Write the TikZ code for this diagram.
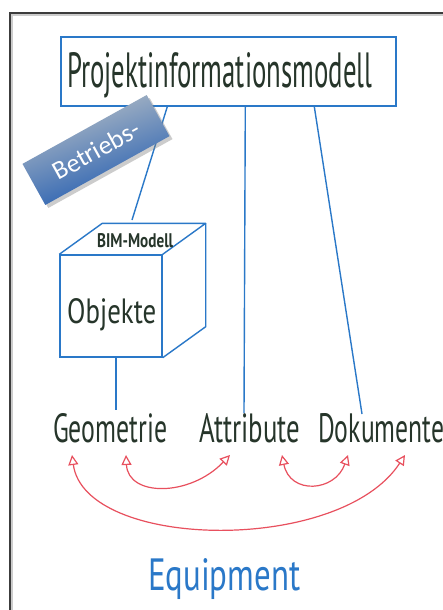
\documentclass[tikz,border=0pt]{standalone}
\usepackage{fontspec}
\setmainfont{PT Sans}
\newfontfamily\labelfont{Carlito}
\usetikzlibrary{arrows.meta,shadows,calc}
\definecolor{ink}{HTML}{26352A}
\definecolor{pen}{HTML}{2A78C8}
\definecolor{redpen}{HTML}{E8505E}
\definecolor{frame}{HTML}{3C3C3C}
\definecolor{tagblue}{HTML}{1C58B0}
\definecolor{taggray}{HTML}{B8C0C6}
\newcommand{\fitto}[3]{\resizebox{#1}{#2}{#3}}
\tikzset{
  hw/.style={inner sep=0pt, text=ink, anchor=base west},
  blueline/.style={draw=pen, line width=1.4pt},
  redarr/.style={draw=redpen, line width=1.2pt, {Triangle[open,length=10pt,width=10pt,line width=1.2pt]}-{Triangle[open,length=10pt,width=10pt,line width=1.2pt]}},
}
\begin{document}
\begin{tikzpicture}[x=1pt,y=-1pt]
\useasboundingbox (0,0) rectangle (443,610);
\clip (0,0) rectangle (443,610);
\fill[white] (0,0) rectangle (443,610);
% frame
\draw[gray!40, line width=2pt] (12,616) -- (12,15) -- (450,15);
\draw[frame, line width=2pt] (10,616) -- (10,13) -- (450,13);

% top box
\node[draw=pen, line width=1.4pt, minimum width=335pt, minimum height=69pt, inner sep=0pt] (pim) at (228.5,71.5) {};
\node[hw] (pimt) at (67,88) {\fitto{305pt}{35pt}{Projektinformationsmodell}};

% cube
\node[draw=pen, line width=1.4pt, minimum width=102pt, minimum height=102pt, inner sep=0pt] (cube) at (111,306) {};
\coordinate (btl) at ($(cube.north west)+(43,-31)$);
\coordinate (btr) at ($(cube.north east)+(43,-31)$);
\coordinate (bbr) at ($(cube.south east)+(43,-31)$);
\draw[blueline, line join=round] (cube.north west) -- (btl) -- (btr) -- (cube.north east);
\draw[blueline, line join=round] (btr) -- (bbr) -- (cube.south east);
\node[hw] (obj) at (67,323) {\fitto{89pt}{25pt}{Objekte}};
\node[hw] (bim) at (97,247) {\fitto{76pt}{14pt}{\bfseries BIM-Modell}};

% bottom labels
\node[hw] (geo) at (53,442) {\fitto{114pt}{29pt}{Geometrie}};
\node[hw] (att) at (199,442) {\fitto{101pt}{29pt}{Attribute}};
\node[hw] (dok) at (318,442) {\fitto{126pt}{29pt}{Dokumente}};
\node[hw, text=pen] (equ) at (148,590) {\fitto{152pt}{32pt}{Equipment}};

% connectors
\coordinate (p1) at ($(pim.south west)+(107,0)$);
\coordinate (p2) at ($(pim.south west)+(185,0)$);
\coordinate (p3) at ($(pim.south west)+(254,0)$);
\coordinate (cubetop) at (132,220);
\coordinate (atttop) at (244,413);
\coordinate (doktop) at (362,414);
\coordinate (cubebot) at ($(cube.south)+(5,0)$);
\coordinate (geotop) at (116,410);
\draw[blueline] (p1) -- (cubetop);
\draw[blueline] (p2) -- (atttop);
\draw[blueline] (p3) -- (doktop);
\draw[blueline] (cubebot) -- (geotop);

% red arrows
\coordinate (g1) at (72,455);
\coordinate (g2) at (126,455);
\coordinate (a1) at (230,455);
\coordinate (a2) at (282,455);
\coordinate (d1) at (348,455);
\coordinate (d2) at (405,455);
\draw[redarr] (g2) .. controls (128,497) and (190,497) .. (a1);
\draw[redarr] (a2) .. controls (290,495) and (335,492) .. (d1);
\draw[redarr] (g1) .. controls (85,550) and (340,555) .. (d2);

% Betriebs- tag
\node[rotate=29, minimum width=142pt, minimum height=47pt, inner sep=0pt,
      top color=taggray, bottom color=tagblue, shading angle=20,
      drop shadow={shadow xshift=3pt, shadow yshift=-3pt, opacity=0.4},
      text=white, font=\labelfont\fontsize{26pt}{26pt}\selectfont] (tag) at (96,150) {Betriebs-};
\end{tikzpicture}
\end{document}
